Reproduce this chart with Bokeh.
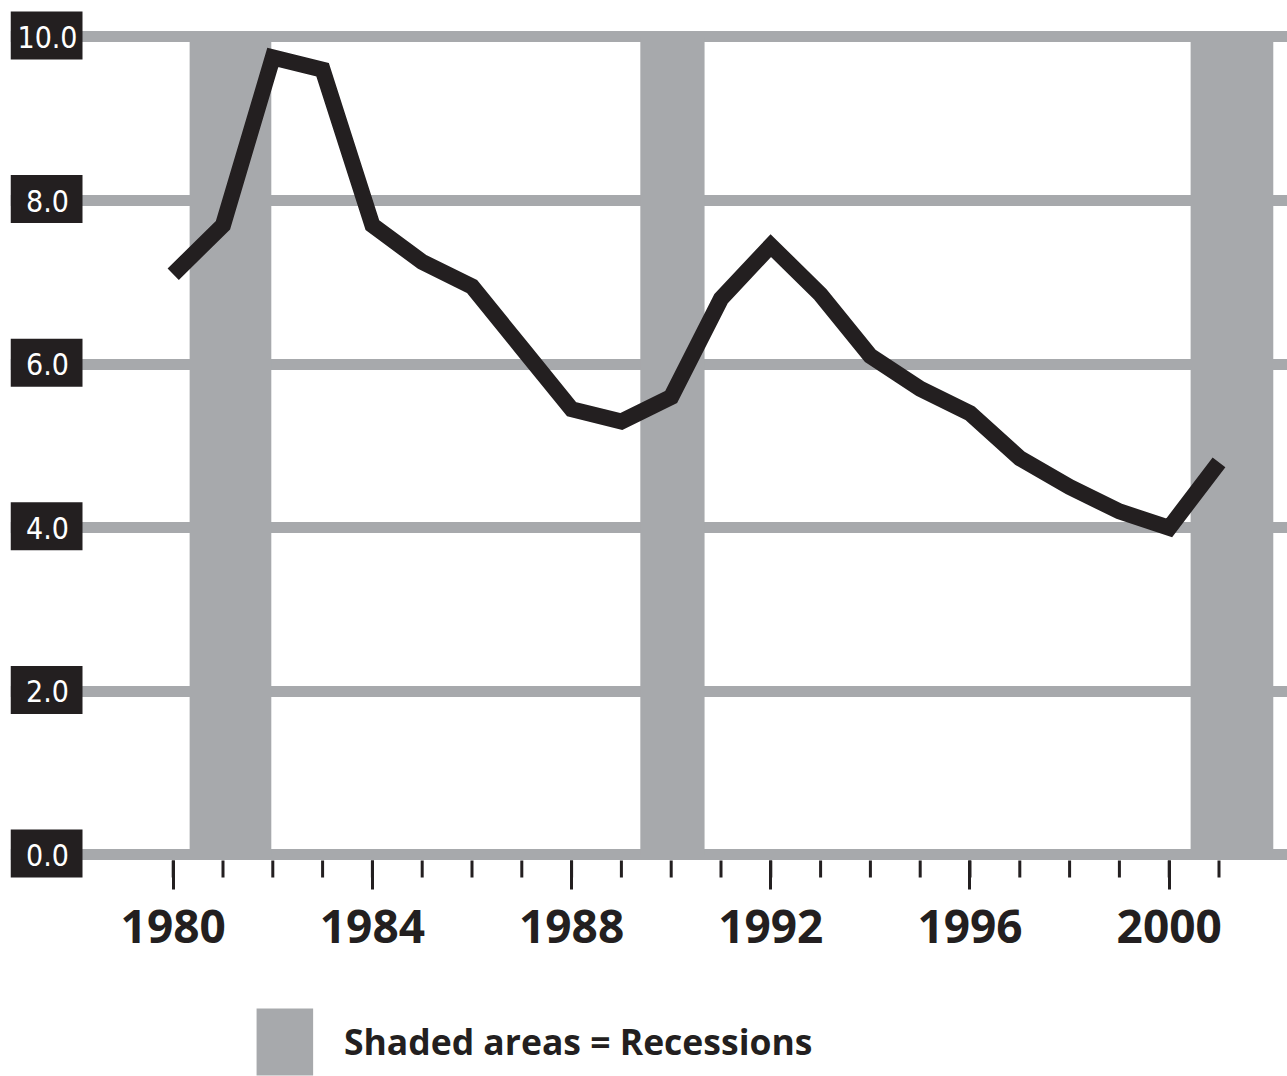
from bokeh.plotting import figure
from bokeh.models import Range1d, FixedTicker, BoxAnnotation, Label
from bokeh.layouts import column
from bokeh.embed import file_html
from bokeh.resources import INLINE
from bokeh.core.properties import value

# ---------------- data ----------------
years = list(range(1980, 2002))
rate = [7.1, 7.7, 9.75, 9.6, 7.7, 7.25, 6.95, 6.2, 5.45, 5.3, 5.6,
        6.8, 7.45, 6.85, 6.1, 5.7, 5.4, 4.85, 4.5, 4.2, 4.0, 4.8]
rec_start = [1980.33, 1989.38, 2000.43]
rec_end = [1981.97, 1990.67, 2002.09]
y_ticks = [0, 2, 4, 6, 8, 10]
y_labels = ["0.0", "2.0", "4.0", "6.0", "8.0", "10.0"]
x_major = [1980, 1984, 1988, 1992, 1996, 2000]
x_minor = years
legend_text = ["Shaded areas = Recessions"]

# ---------------- style ----------------
GRAY = "#a7a9ac"
INK = "#231f20"

W = 1287
LEFT = 10
FRAME_H = 889
BOTTOM = 111
X0, X1 = 1976.733, 2002.3755
Y0, Y1 = -0.4218, 10.4462
frame_w = W - LEFT
px_per_year = frame_w / (X1 - X0)
px_per_unit = FRAME_H / (Y1 - Y0)

p = figure(width=W, height=FRAME_H + BOTTOM,
           x_range=Range1d(X0, X1), y_range=Range1d(Y0, Y1),
           output_backend="svg", toolbar_location=None,
           y_axis_location=None,
           min_border_left=LEFT, min_border_right=0, min_border_top=0,
           min_border_bottom=BOTTOM)
p.outline_line_color = None
p.background_fill_color = "white"
p.border_fill_color = "white"

p.xgrid.visible = False
p.ygrid.ticker = FixedTicker(ticks=y_ticks)
p.ygrid.grid_line_color = GRAY
p.ygrid.grid_line_width = 11

# recession bands
p.quad(left=rec_start, right=rec_end, bottom=0, top=10,
       fill_color=GRAY, line_color=None)

# series
p.line(years, rate, line_width=16, line_color=INK,
       line_join="miter", line_cap="butt")

# minor (yearly) ticks hanging under the zero gridline
base = y_ticks[0]
p.segment(x0=x_minor, x1=x_minor,
          y0=base - 5.5 / px_per_unit, y1=base - 22.5 / px_per_unit,
          line_color=INK, line_width=3, line_cap="butt")

# y labels in black boxes
box_l = X0
box_r = X0 + 72 / px_per_year
txt_x = X0 + 37 / px_per_year
for v in y_ticks:
    p.add_layout(BoxAnnotation(left=box_l, right=box_r,
                               bottom=v - 22.5 / px_per_unit,
                               top=v + 25.5 / px_per_unit,
                               fill_color=INK, fill_alpha=1.0,
                               line_color=None))
for v, lab in zip(y_ticks, y_labels):
    p.add_layout(Label(x=txt_x, y=v, text=lab,
                       text_font="DejaVu Sans Condensed",
                       text_font_size="30px", text_color="white",
                       text_align="center", text_baseline="middle"))

# x axis (major ticks drawn upward from the frame edge)
ax = p.xaxis[0]
ax.ticker = FixedTicker(ticks=x_major, minor_ticks=[])
ax.axis_line_color = None
ax.major_tick_line_color = INK
ax.major_tick_line_width = 3
ax.major_tick_in = 29
ax.major_tick_out = 0
ax.minor_tick_in = 0
ax.minor_tick_out = 0
ax.major_label_text_font = "Open Sans"
ax.major_label_text_font_style = "bold"
ax.major_label_text_font_size = "46px"
ax.major_label_text_color = INK
ax.major_label_standoff = 20

# legend strip
LH = 76
lf = figure(width=W, height=LH, x_range=Range1d(0, W), y_range=Range1d(0, LH),
            output_backend="svg", toolbar_location=None,
            x_axis_location=None, y_axis_location=None,
            min_border_left=0, min_border_right=0, min_border_top=0,
            min_border_bottom=0)
lf.outline_line_color = None
lf.xgrid.visible = False
lf.ygrid.visible = False
lf.quad(left=[248], right=[305], bottom=[1], top=[68],
        fill_color=GRAY, line_color=None)
lf.text(x=[336], y=[36], text=legend_text,
        text_font=value("Open Sans"), text_font_style="bold",
        text_font_size="35.5px", text_color=INK,
        text_align="left", text_baseline="middle")

layout = column(p, lf, spacing=0)
open("out.html", "w").write(file_html(layout, INLINE))
